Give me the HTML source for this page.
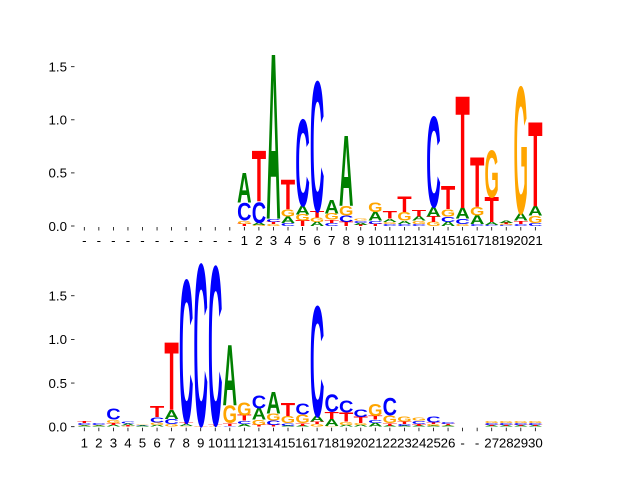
<!DOCTYPE html>
<html><head><meta charset="utf-8"><style>
body{margin:0;background:#fff}
svg text{font-family:"Liberation Sans",sans-serif}
</style></head><body>
<svg id="chart" width="640" height="480" viewBox="0 0 640 480" xmlns="http://www.w3.org/2000/svg">
<g id="top"></g>
<g id="bot"></g>
</svg>
<script>
const topLabels=['-','-','-','-','-','-','-','-','-','-','-','1','2','3','4','5','6','7','8','9','10','11','12','13','14','15','16','17','18','19','20','21'];
const Z11=[0,0,0,0,0,0,0,0,0,0,0];
const topA=Z11.concat([.27,.02,1.5,.06,.08,.04,.12,.64,.02,.08,.03,.03,.04,.09,.04,.1,.08,.03,.02,.07,.09]);
const topC=Z11.concat([.17,.2,.03,.03,.83,1.25,.03,.06,.02,.03,.02,.02,.02,.87,.05,.05,.02,.01,.01,.02,.03]);
const topG=Z11.concat([.03,.01,.02,.07,.06,.04,.06,.09,.02,.09,.02,.08,.03,.04,.07,.02,.08,.45,.01,1.22,.07]);
const topT=Z11.concat([.02,.46,.02,.27,.05,.06,.03,.04,.01,.02,.07,.14,.06,.05,.21,1.02,.45,.23,.01,.03,.77]);
const botLabels=['1','2','3','4','5','6','7','8','9','10','11','12','13','14','15','16','17','18','19','20','21','22','23','24','25','26','-','-','27','28','29','30'];
const botA=[.01,.01,.02,.02,.01,.02,.1,.02,0,0,.67,.03,.13,.24,.01,.01,.06,.08,.02,.02,.04,.01,.01,.01,.01,.01,0,0,.01,.01,.01,.01];
const botC=[.02,.02,.13,.02,.01,.06,.06,1.67,1.89,1.86,.01,.04,.15,.05,.03,.13,1.29,.2,.14,.09,.04,.2,.02,.04,.07,.02,0,0,.02,.02,.02,.02];
const botG=[.01,.01,.04,.005,.01,.03,.03,.01,.01,.01,.2,.15,.06,.08,.08,.1,.03,.01,.04,.02,.14,.09,.06,.04,.02,.01,0,0,.02,.02,.02,.02];
const botT=[.02,0,.02,.01,0,.12,.75,.02,.005,.01,.03,.06,.02,.02,.14,.03,.03,.08,.1,.07,.04,.03,.03,.02,.02,.01,0,0,.01,.01,.01,.01];
const yTicks=[0,0.5,1.0,1.5];
const colors={A:'#008000',C:'#0000ff',G:'#ffa500',T:'#ff0000'};
const capH={A:67,C:71,G:71,T:67};
const NS='http://www.w3.org/2000/svg';
function mk(tag,attrs,parent){const e=document.createElementNS(NS,tag);for(const k in attrs)e.setAttribute(k,attrs[k]);parent.appendChild(e);return e;}
function xScale(i){return 84.3+i*14.55;}
function drawPanel(g,zeroY,ppu,labels,A,C,G,T,labelY){
  const yS=v=>zeroY-v*ppu;
  yTicks.forEach(t=>{
    const y=yS(t);
    const tk=mk('line',{x1:71,x2:74.5,y1:y,y2:y,stroke:'#000','stroke-width':0.8},g);
    
    
    const tl=mk('text',{x:67,y:y+4.8,'font-size':13.3,'text-anchor':'end',fill:'#000'},g);
    tl.textContent=t.toFixed(1);
    
    
  });
  labels.forEach((lab,i)=>{
    const x=xScale(i);
    const tk=mk('line',{x1:x,x2:x,y1:zeroY+1,y2:zeroY+4.5,stroke:'#000','stroke-width':0.8},g);
    
    
    const tl=mk('text',{x:x,y:labelY,'font-size':13.3,'text-anchor':'middle',fill:'#000'},g);
    tl.textContent=lab;
    
    
    const stack=[['A',A[i]],['C',C[i]],['G',G[i]],['T',T[i]]].filter(d=>d[1]>0).sort((a,b)=>a[1]-b[1]);
    let base=0;
    stack.forEach(([L,v])=>{
      const yb=yS(base),yt=yS(base+v),h=yb-yt;
      const w=14.4;
      const t=mk('text',{x:0,y:0,'font-size':100,'font-weight':'bold',fill:colors[L],textLength:72,lengthAdjust:'spacingAndGlyphs',
        transform:`translate(${x-w/2},${yb}) scale(${w/72},${h/capH[L]})`},g);
      t.textContent=L;
      
      
      base+=v;
    });
  });
}
drawPanel(document.getElementById('top'),226,106.2,topLabels,topA,topC,topG,topT,245);
drawPanel(document.getElementById('bot'),426.7,87.3,botLabels,botA,botC,botG,botT,447.5);
</script>
</body></html>
